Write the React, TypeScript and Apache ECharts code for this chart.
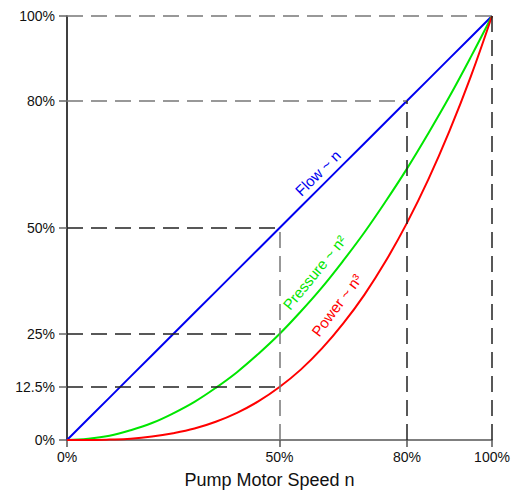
import React, { useEffect, useRef } from "react";
import * as echarts from "echarts";

const speeds = [0, 5, 10, 15, 20, 25, 30, 35, 40, 45, 50, 55, 60, 65, 70, 75, 80, 85, 90, 95, 100];
const flow = [0, 5, 10, 15, 20, 25, 30, 35, 40, 45, 50, 55, 60, 65, 70, 75, 80, 85, 90, 95, 100];
const pressure = [0, 0.3, 1, 2.3, 4, 6.3, 9, 12.3, 16, 20.3, 25, 30.3, 36, 42.3, 49, 56.3, 64, 72.3, 81, 90.3, 100];
const power = [0, 0, 0.1, 0.3, 0.8, 1.6, 2.7, 4.3, 6.4, 9.1, 12.5, 16.6, 21.6, 27.5, 34.3, 42.2, 51.2, 61.4, 72.9, 85.7, 100];

const xTicks = [0, 50, 80, 100];
const yTicks = [0, 12.5, 25, 50, 80, 100];

const curveNames = ["Flow ~ n", "Pressure ~ n²", "Power ~ n³"];
const curveColors = ["#0000f0", "#00e600", "#ff0000"];
const labelAtSpeed = [61, 61, 66.5];

// [x1, y1, x2, y2, dark]
const guideLines: [number, number, number, number, boolean][] = [
  [0, 100, 100, 100, false],
  [0, 80, 80, 80, false],
  [0, 50, 50, 50, true],
  [0, 25, 50, 25, true],
  [0, 12.5, 50, 12.5, true],
  [50, 0, 50, 50, false],
  [80, 0, 80, 80, true],
  [100, 0, 100, 100, true],
];

function interp(xs: number[], ys: number[], x: number) {
  for (let i = 0; i < xs.length - 1; i++) {
    if (x >= xs[i] && x <= xs[i + 1]) {
      const t = (x - xs[i]) / (xs[i + 1] - xs[i]);
      return ys[i] + t * (ys[i + 1] - ys[i]);
    }
  }
  return ys[ys.length - 1];
}

export default function App() {
  const ref = useRef<HTMLDivElement>(null);
  useEffect(() => {
    const chart = echarts.init(ref.current!, null, { renderer: "svg" });
    const seriesData = [flow, pressure, power];
    const font = "Liberation Sans, Arial, sans-serif";
    chart.setOption({
      animation: false,
      grid: { left: 67, right: 30, top: 16, bottom: 52, outerBoundsMode: "none" },
      xAxis: {
        type: "value",
        min: 0,
        max: 100,
        name: "Pump Motor Speed n",
        nameLocation: "middle",
        nameGap: 31,
        nameTextStyle: { fontSize: 18, color: "#111", fontFamily: font, padding: [0, 20, 0, 0] },
        axisLine: { show: true, lineStyle: { color: "#555", width: 1.5 } },
        axisTick: { show: true, customValues: xTicks, length: 7, lineStyle: { color: "#555", width: 1.5 } },
        axisLabel: {
          customValues: xTicks,
          formatter: (v: number) => v + "%",
          fontSize: 14,
          color: "#111",
          fontFamily: font,
          margin: 10,
        },
        splitLine: { show: false },
      },
      yAxis: {
        type: "value",
        min: 0,
        max: 100,
        axisLine: { show: true, lineStyle: { color: "#000", width: 1.5 } },
        axisTick: { show: true, customValues: yTicks, length: 8, lineStyle: { color: "#666", width: 1.5 } },
        axisLabel: {
          customValues: yTicks,
          formatter: (v: number) => v + "%",
          fontSize: 14,
          color: "#111",
          fontFamily: font,
          margin: 12,
        },
        splitLine: { show: false },
      },
      series: [
        {
          type: "line",
          data: [],
          z: 1,
          silent: true,
          markLine: {
            silent: true,
            symbol: ["none", "none"],
            label: { show: false },
            data: guideLines.map(([x1, y1, x2, y2, dark]) => [
              {
                coord: [x1, y1],
                lineStyle: { color: dark ? "#222" : "#777", width: 1.5, type: [16, 8] },
              },
              { coord: [x2, y2] },
            ]),
          },
        },
        ...seriesData.map((vals, i) => ({
          type: "line",
          name: curveNames[i],
          data: speeds.map((s, j) => [s, vals[j]]),
          smooth: i === 0 ? false : 0.4,
          showSymbol: false,
          z: 3,
          lineStyle: { color: curveColors[i], width: 2 },
        })),
      ],
    });

    const offsets = [12, 15, 16];
    const graphics = seriesData.map((vals, i) => {
      const sx = labelAtSpeed[i];
      const p = chart.convertToPixel({ gridIndex: 0 }, [sx, interp(speeds, vals, sx)]) as number[];
      const a = chart.convertToPixel({ gridIndex: 0 }, [sx - 2, interp(speeds, vals, sx - 2)]) as number[];
      const b = chart.convertToPixel({ gridIndex: 0 }, [sx + 2, interp(speeds, vals, sx + 2)]) as number[];
      let tx = b[0] - a[0];
      let ty = b[1] - a[1];
      const n = Math.hypot(tx, ty);
      tx /= n;
      ty /= n;
      const d = offsets[i];
      return {
        type: "text",
        x: p[0] + ty * d,
        y: p[1] - tx * d,
        rotation: Math.atan2(-ty, tx),
        z: 10,
        style: {
          text: curveNames[i],
          fill: curveColors[i],
          font: `15px ${font}`,
          align: "center",
          verticalAlign: "middle",
        },
      };
    });
    chart.setOption({ graphic: graphics });
    return () => chart.dispose();
  }, []);
  return (
    <div
      ref={ref}
      style={{ position: "absolute", left: 0, top: 0, width: 522, height: 492 }}
    />
  );
}
